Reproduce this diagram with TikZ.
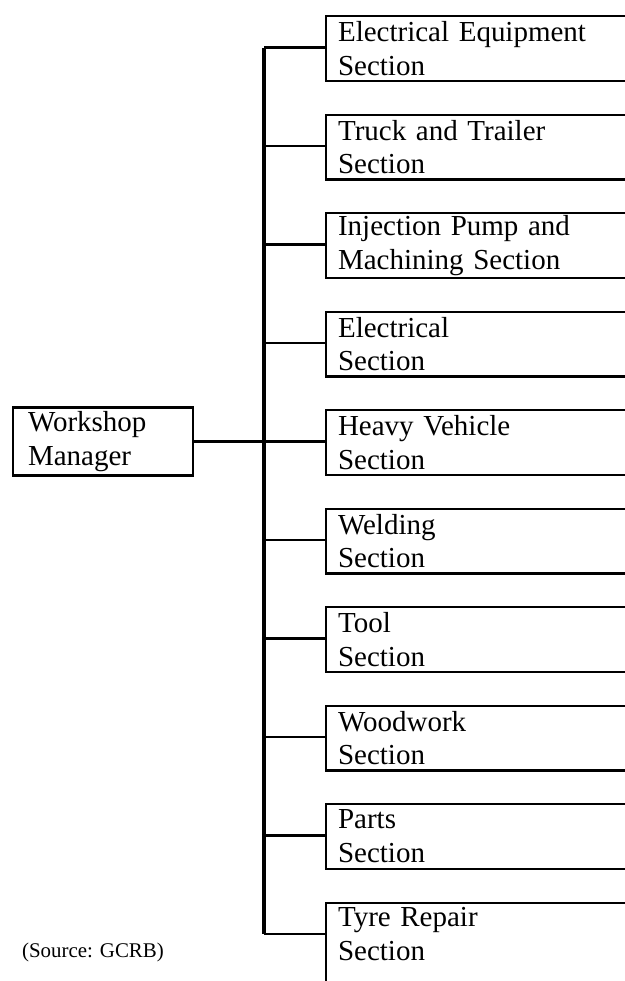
\documentclass[tikz,border=0pt]{standalone}
\usepackage{fontspec}
\setmainfont{Liberation Serif}
\usetikzlibrary{positioning}

\tikzset{
    sectionbox/.style={draw, line width=1.2pt, anchor=north west, align=left,
        text width=6.22cm, inner xsep=0.24cm, inner ysep=0pt, minimum height=1.3cm,
        font=\fontsize{16.5}{19.3}\selectfont},
    headbox/.style={draw, line width=1.2pt, align=left, text width=3.0cm,
        inner xsep=0.3cm, inner ysep=0pt, minimum height=1.36cm,
        font=\fontsize{16.5}{19.3}\selectfont},
    link/.style={line width=1.4pt},
    spine/.style={line width=1.8pt}
}

\begin{document}
\begin{tikzpicture}[x=0.02cm, y=-0.02cm]
    \useasboundingbox (0,0) rectangle (625,981);

    % the sections
    \node[sectionbox] (s1) at (325,15) {Electrical Equipment\\Section};
    \node[sectionbox] (s2) at (325,113.5) {Truck and Trailer\\Section};
    \node[sectionbox] (s3) at (325,212) {Injection Pump and\\Machining Section};
    \node[sectionbox] (s4) at (325,310.5) {Electrical\\Section};
    \node[sectionbox] (s5) at (325,409) {Heavy Vehicle\\Section};
    \node[sectionbox] (s6) at (325,507.5) {Welding\\Section};
    \node[sectionbox] (s7) at (325,606) {Tool\\Section};
    \node[sectionbox] (s8) at (325,704.5) {Woodwork\\Section};
    \node[sectionbox] (s9) at (325,803) {Parts\\Section};
    \node[sectionbox, inner ysep=0.1cm] (s10) at (325,901.5) {Tyre Repair\\Section\\\strut};

    \node[headbox] (mgr) at (103,441.5) {Workshop\\Manager};
    \node[font=\fontsize{11.9}{14}\selectfont] (src) at (93,952) {(Source: GCRB)};

    % spine and branches
    \foreach \i in {1,...,10}
        \coordinate (j\i) at (264,{15+(\i-1)*98.5+32.5});
    \draw[spine] (j1) -- (j10);
    \foreach \i in {1,...,10}
        \draw[link] (j\i) -- (j\i -| s\i.west);
    \draw[link] (mgr.east) -- (j5);
\end{tikzpicture}
\end{document}
